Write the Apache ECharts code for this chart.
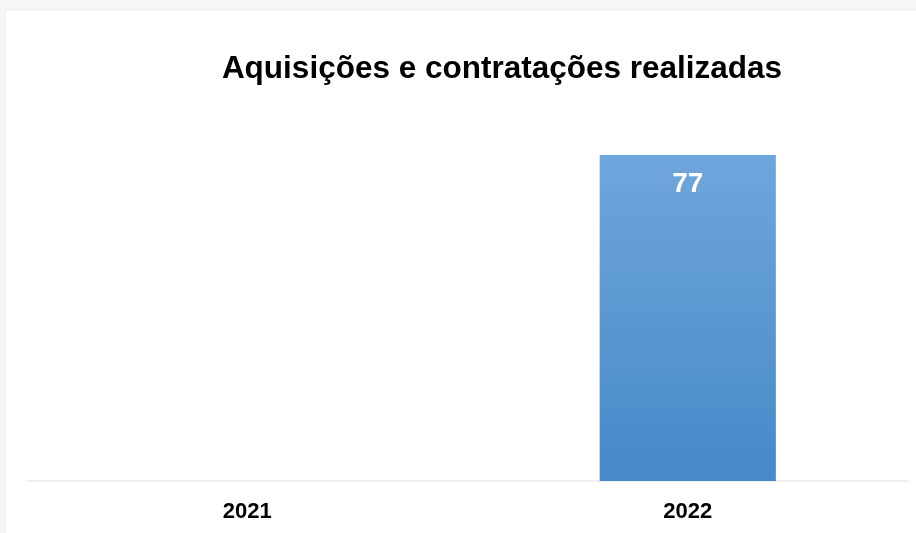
<!DOCTYPE html>
<html>
<head>
<meta charset="utf-8">
<script src="https://cdn.jsdelivr.net/npm/echarts@6/dist/echarts.min.js"></script>
<style>html,body{margin:0;padding:0;background:#fff;}#c{width:916px;height:533px;}</style>
</head>
<body>
<div id="c"></div>
<script>
const categories = ['2021', '2022'];
const values = [null, 77];
const titleText = 'Aquisições e contratações realizadas';

const chart = echarts.init(document.getElementById('c'));
chart.setOption({
  backgroundColor: '#ffffff',
  animation: false,
  title: {
    text: titleText,
    left: 497, top: 48, textAlign: 'center',
    textStyle: { fontFamily: 'Liberation Sans, Arial', fontWeight: 'bold', fontSize: 31.5, color: '#000' }
  },
  graphic: [
    { type: 'rect', shape: { x: 0, y: 0, width: 916, height: 10 }, style: { fill: '#f6f6f6' }, silent: true },
    { type: 'rect', shape: { x: 0, y: 0, width: 5, height: 533 }, style: { fill: '#f6f6f6' }, silent: true },
    { type: 'line', shape: { x1: 5, y1: 10, x2: 916, y2: 10 }, style: { stroke: '#ececec', lineWidth: 1 }, silent: true },
    { type: 'line', shape: { x1: 5, y1: 10, x2: 5, y2: 533 }, style: { stroke: '#ececec', lineWidth: 1 }, silent: true }
  ],
  grid: { left: 27, right: 8, top: 155, bottom: 52, containLabel: false },
  xAxis: {
    type: 'category', data: categories,
    axisLine: { lineStyle: { color: '#f0f0f0', width: 2 } },
    axisTick: { show: false },
    axisLabel: { margin: 20, fontFamily: 'Liberation Sans, Arial', fontWeight: 'bold', fontSize: 22, color: '#000' }
  },
  yAxis: { type: 'value', min: 0, max: 77, show: false, splitLine: { show: false } },
  series: [{
    type: 'bar', data: values, barWidth: '40%',
    itemStyle: {
      color: new echarts.graphic.LinearGradient(0, 0, 0, 1, [
        { offset: 0, color: '#6fa6dc' }, { offset: 1, color: '#4589c8' }
      ])
    },
    label: {
      show: true, position: 'insideTop', distance: 15,
      fontFamily: 'Liberation Sans, Arial', fontWeight: 'bold', fontSize: 28, color: '#fff'
    }
  }]
});
</script>
</body>
</html>
